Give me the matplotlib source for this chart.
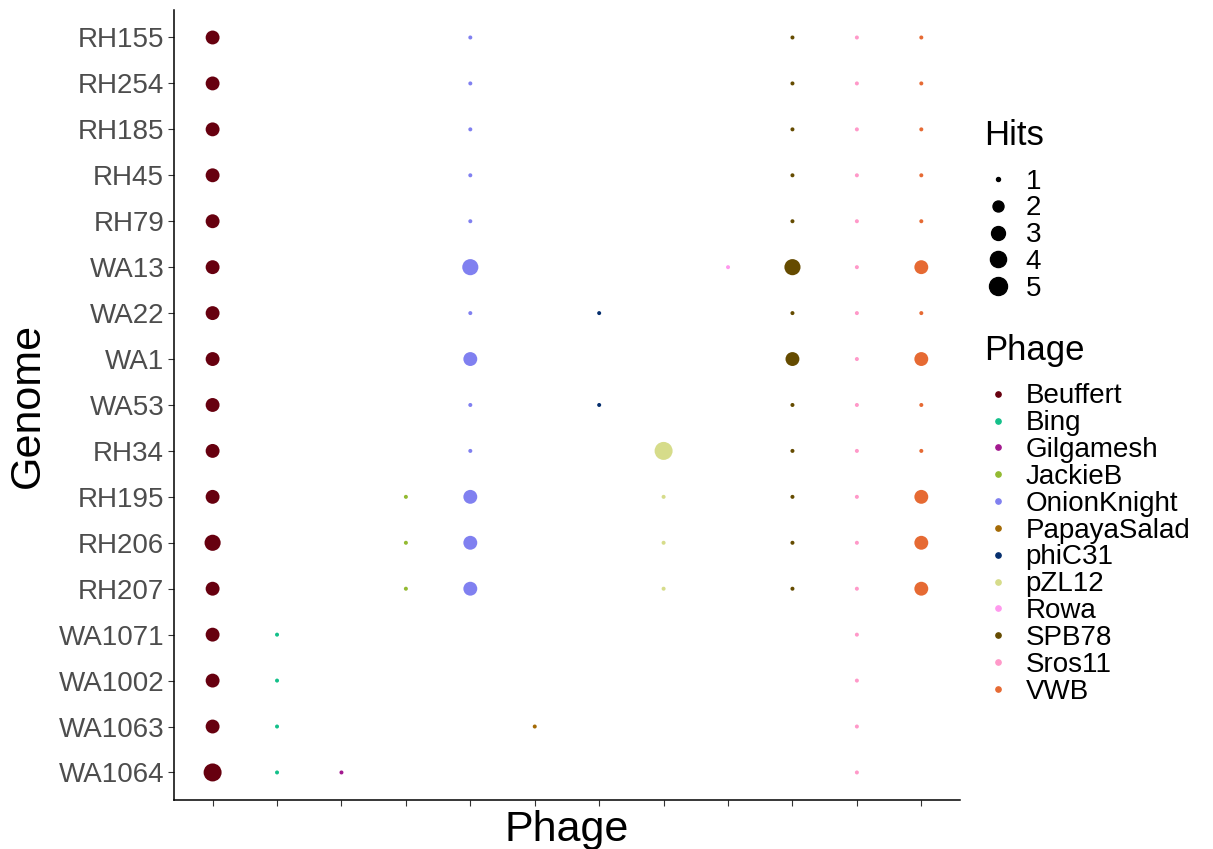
import matplotlib.pyplot as plt
import numpy as np
from matplotlib.lines import Line2D

plt.rcParams['font.family'] = ['Liberation Sans', 'DejaVu Sans']

# genomes top to bottom, phages left to right
genomes = ["RH155", "RH254", "RH185", "RH45", "RH79", "WA13", "WA22", "WA1",
           "WA53", "RH34", "RH195", "RH206", "RH207", "WA1071", "WA1002",
           "WA1063", "WA1064"]
phages = ["Beuffert", "Bing", "Gilgamesh", "JackieB", "OnionKnight",
          "PapayaSalad", "phiC31", "pZL12", "Rowa", "SPB78", "Sros11", "VWB"]
phage_colors = ["#67000F", "#14C08A", "#A3198F", "#93BA32", "#8080F0",
                "#A46A05", "#062F6E", "#D6DC8A", "#FF99EE", "#654B00",
                "#FF99C9", "#E66A33"]

# number of hits, one row per genome, one column per phage (0 = none)
hits = [
    [3, 0, 0, 0, 1, 0, 0, 0, 0, 1, 1, 1],  # RH155
    [3, 0, 0, 0, 1, 0, 0, 0, 0, 1, 1, 1],  # RH254
    [3, 0, 0, 0, 1, 0, 0, 0, 0, 1, 1, 1],  # RH185
    [3, 0, 0, 0, 1, 0, 0, 0, 0, 1, 1, 1],  # RH45
    [3, 0, 0, 0, 1, 0, 0, 0, 0, 1, 1, 1],  # RH79
    [3, 0, 0, 0, 4, 0, 0, 0, 1, 4, 1, 3],  # WA13
    [3, 0, 0, 0, 1, 0, 1, 0, 0, 1, 1, 1],  # WA22
    [3, 0, 0, 0, 3, 0, 0, 0, 0, 3, 1, 3],  # WA1
    [3, 0, 0, 0, 1, 0, 1, 0, 0, 1, 1, 1],  # WA53
    [3, 0, 0, 0, 1, 0, 0, 5, 0, 1, 1, 1],  # RH34
    [3, 0, 0, 1, 3, 0, 0, 1, 0, 1, 1, 3],  # RH195
    [4, 0, 0, 1, 3, 0, 0, 1, 0, 1, 1, 3],  # RH206
    [3, 0, 0, 1, 3, 0, 0, 1, 0, 1, 1, 3],  # RH207
    [3, 1, 0, 0, 0, 0, 0, 0, 0, 0, 1, 0],  # WA1071
    [3, 1, 0, 0, 0, 0, 0, 0, 0, 0, 1, 0],  # WA1002
    [3, 1, 0, 0, 0, 1, 0, 0, 0, 0, 1, 0],  # WA1063
    [5, 1, 1, 0, 0, 0, 0, 0, 0, 0, 1, 0],  # WA1064
]
size_breaks = [1, 2, 3, 4, 5]


def dot_diam(h):
    # marker diameter in points, area-style scale like ggplot's scale_size
    px = 4 + 14 * np.sqrt((np.asarray(h, dtype=float) - 1) / 4)
    return px * 0.72


fig = plt.figure(figsize=(12.13, 8.49), dpi=100)
ax = fig.add_axes([0.1434, 0.0577, 0.6480, 0.9306])

hits_arr = np.array(hits)
for j, (name, col) in enumerate(zip(phages, phage_colors)):
    rows = np.nonzero(hits_arr[:, j])[0]
    vals = hits_arr[rows, j]
    ax.scatter(np.full(len(rows), j), rows, s=dot_diam(vals) ** 2,
               color=col, edgecolors='none', zorder=3)

ax.set_xlim(-0.6, len(phages) - 0.4)
ax.set_ylim(len(genomes) - 0.4, -0.6)
ax.set_xticks(np.arange(len(phages)))
ax.set_xticklabels([])
ax.set_yticks(np.arange(len(genomes)))
ax.set_yticklabels(genomes, fontsize=20, color='#4D4D4D')
ax.tick_params(axis='both', length=4, width=0.8, color='#333333')
ax.tick_params(axis='y', pad=3)

for side in ['top', 'right']:
    ax.spines[side].set_visible(False)
for side in ['left', 'bottom']:
    ax.spines[side].set_linewidth(1.1)

ax.set_xlabel("Phage", fontsize=31, labelpad=0)
ax.set_ylabel("Genome", fontsize=31, labelpad=8)

# size legend
size_handles = [Line2D([], [], marker='o', linestyle='none', color='black',
                       markersize=dot_diam(b)) for b in size_breaks]
leg1 = fig.legend(size_handles, [str(b) for b in size_breaks], title="Hits",
                  loc='upper left', bbox_to_anchor=(0.802, 0.873),
                  fontsize=20, title_fontsize=25, frameon=False,
                  labelspacing=0.03, handletextpad=0.5, handlelength=1.0,
                  alignment='left', borderaxespad=0)
leg1._legend_box.sep = 12

# colour legend
col_handles = [Line2D([], [], marker='o', linestyle='none', color=c,
                      markersize=3.8) for c in phage_colors]
leg2 = fig.legend(col_handles, phages, title="Phage",
                  loc='upper left', bbox_to_anchor=(0.802, 0.620),
                  fontsize=20, title_fontsize=25, frameon=False,
                  labelspacing=0.03, handletextpad=0.5, handlelength=1.0,
                  alignment='left', borderaxespad=0)
leg2._legend_box.sep = 12

fig.savefig('out.png', dpi=100)
